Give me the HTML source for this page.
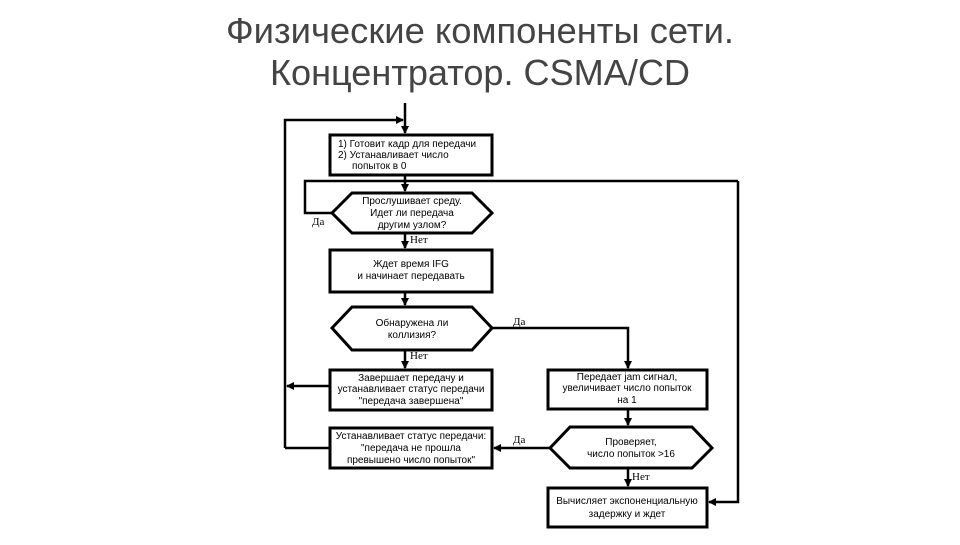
<!DOCTYPE html>
<html><head><meta charset="utf-8"><style>
body{margin:0;background:#fff;width:960px;height:540px;overflow:hidden}
</style></head><body>
<svg width="960" height="540" xmlns="http://www.w3.org/2000/svg">
<defs><marker id="a" markerWidth="8" markerHeight="8" refX="7" refY="4" orient="auto" markerUnits="userSpaceOnUse"><path d="M0,0 L8,4 L0,8 z" fill="#000"/></marker></defs>
<g font-family="Liberation Sans, DejaVu Sans, sans-serif" fill="#444" font-size="36" text-anchor="middle">
<text x="480" y="43" textLength="508" lengthAdjust="spacingAndGlyphs">Физические компоненты сети.</text>
<text x="480" y="85" textLength="420" lengthAdjust="spacingAndGlyphs">Концентратор. CSMA/CD</text>
</g>
<g stroke="#000" stroke-width="2.5" fill="none">
<line x1="405" y1="103" x2="405" y2="133" marker-end="url(#a)"/>
<polyline points="285,448 285,120 403,120" marker-end="url(#a)"/>
<line x1="405" y1="176" x2="405" y2="191" marker-end="url(#a)"/>
<polyline points="332,213 305,213 305,181 405,181"/>
<polyline points="738,181 405,181"/>
<line x1="405" y1="234" x2="405" y2="248" marker-end="url(#a)"/>
<line x1="405" y1="293" x2="405" y2="305" marker-end="url(#a)"/>
<polyline points="492,328 628,328 628,368" marker-end="url(#a)"/>
<line x1="405" y1="351" x2="405" y2="368" marker-end="url(#a)"/>
<line x1="330" y1="386" x2="287" y2="386" marker-end="url(#a)"/>
<line x1="628" y1="410" x2="628" y2="425" marker-end="url(#a)"/>
<line x1="550" y1="448" x2="494" y2="448" marker-end="url(#a)"/>
<line x1="330" y1="448" x2="285" y2="448"/>
<line x1="628" y1="469" x2="628" y2="486" marker-end="url(#a)"/>
<polyline points="738,181 738,502 709,502" marker-end="url(#a)"/>
</g>
<g stroke="#000" stroke-width="3" fill="#fff">
<rect x="330" y="135" width="162" height="40"/>
<polygon points="332,213 352,193 472,193 492,213 472,233 352,233"/>
<rect x="330" y="250" width="162" height="42"/>
<polygon points="332,328 352,307 472,307 492,328 472,350 352,350"/>
<rect x="330" y="370" width="162" height="40"/>
<rect x="548" y="370" width="159" height="39"/>
<polygon points="550,448 570,427 692,427 712,448 692,468 570,468"/>
<rect x="330" y="428" width="162" height="40"/>
<rect x="548" y="488" width="159" height="39"/>
</g>
<g font-family="Liberation Sans, DejaVu Sans, sans-serif" font-size="10" fill="#000" text-anchor="middle">
<text x="338" y="147" text-anchor="start">1) Готовит кадр для передачи</text>
<text x="338" y="158" text-anchor="start">2) Устанавливает число</text>
<text x="352" y="169" text-anchor="start">попыток в 0</text>
<text x="412" y="204">Прослушивает среду.</text>
<text x="412" y="216">Идет ли передача</text>
<text x="412" y="228">другим узлом?</text>
<text x="411" y="267">Ждет время IFG</text>
<text x="411" y="279">и начинает передавать</text>
<text x="412" y="326">Обнаружена ли</text>
<text x="412" y="338">коллизия?</text>
<text x="411" y="381">Завершает передачу и</text>
<text x="411" y="392">устанавливает статус передачи</text>
<text x="411" y="404">"передача завершена"</text>
<text x="627" y="380">Передает jam сигнал,</text>
<text x="627" y="391">увеличивает число попыток</text>
<text x="627" y="403">на 1</text>
<text x="631" y="445">Проверяет,</text>
<text x="631" y="457">число попыток &gt;16</text>
<text x="411" y="439">Устанавливает статус передачи:</text>
<text x="411" y="451">"передача не прошла</text>
<text x="411" y="463">превышено число попыток"</text>
<text x="627" y="504">Вычисляет экспоненциальную</text>
<text x="627" y="517">задержку и ждет</text>
</g>
<g font-family="Liberation Serif, serif" font-size="11" fill="#000">
<text x="312" y="225">Да</text>
<text x="410" y="243">Нет</text>
<text x="513" y="325">Да</text>
<text x="410" y="359">Нет</text>
<text x="513" y="443">Да</text>
<text x="632" y="480">Нет</text>
</g>
</svg>
</body></html>
